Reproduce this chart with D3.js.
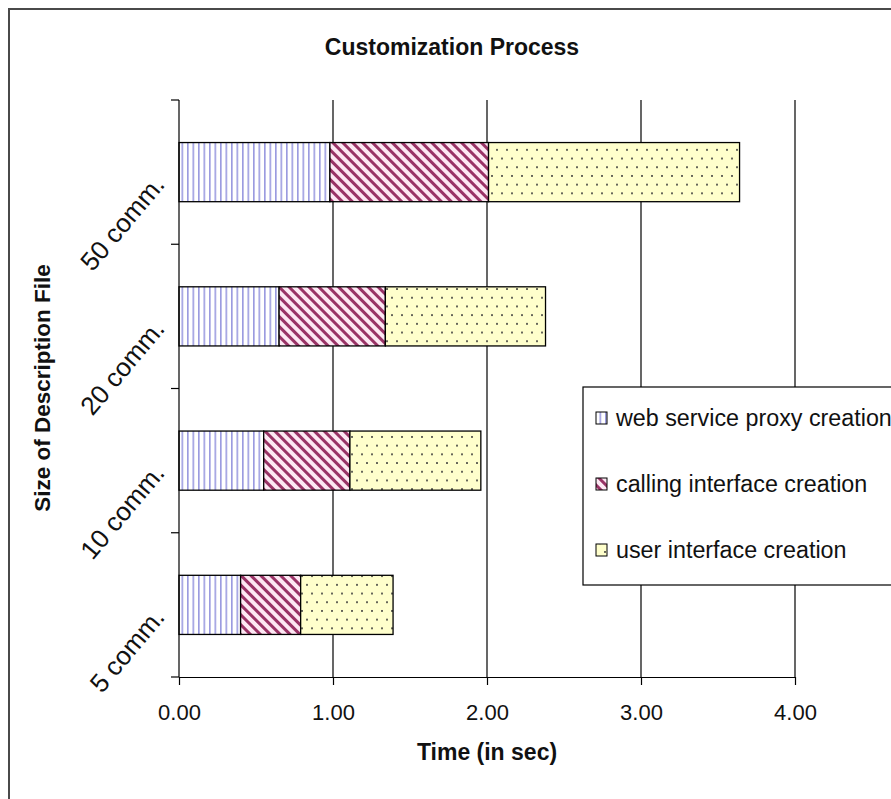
<!DOCTYPE html>
<html>
<head>
<meta charset="utf-8">
<script src="https://cdn.jsdelivr.net/npm/d3@7"></script>
<style>
  html, body { margin: 0; padding: 0; background: #fff; }
  svg { display: block; font-family: "Liberation Sans", Arial, sans-serif; }
</style>
</head>
<body>
<svg id="chart" width="891" height="799"></svg>
<script>
// ---- data ----
const categories = ["50 comm.", "20 comm.", "10 comm.", "5 comm."];
const seriesNames = ["web service proxy creation", "calling interface creation", "user interface creation"];
const proxyCreation = [0.98, 0.65, 0.55, 0.40];
const callingInterface = [1.03, 0.69, 0.56, 0.39];
const userInterface = [1.63, 1.04, 0.85, 0.60];
const xTicks = [0, 1, 2, 3, 4];
const titleText = "Customization Process";
const xTitle = "Time (in sec)";
const yTitle = "Size of Description File";

const svg = d3.select("#chart");
const W = 891, H = 799;
const plot = { left: 179, right: 795, top: 100, bottom: 677 };

// ---- patterns ----
const defs = svg.append("defs");
const p1 = defs.append("pattern").attr("id", "pat0").attr("patternUnits", "userSpaceOnUse")
  .attr("width", 5.5).attr("height", 10);
p1.append("rect").attr("width", 5.5).attr("height", 10).attr("fill", "#ffffff");
p1.append("rect").attr("x", 0).attr("width", 1.6).attr("height", 10).attr("fill", "#9a9ae0");

const p2 = defs.append("pattern").attr("id", "pat1").attr("patternUnits", "userSpaceOnUse")
  .attr("width", 7).attr("height", 10).attr("patternTransform", "rotate(-45)");
p2.append("rect").attr("width", 7).attr("height", 10).attr("fill", "#fde8f3");
p2.append("rect").attr("x", 0).attr("width", 3).attr("height", 10).attr("fill", "#993366");

const p3 = defs.append("pattern").attr("id", "pat2").attr("patternUnits", "userSpaceOnUse")
  .attr("width", 10).attr("height", 17.4);
p3.append("rect").attr("width", 10).attr("height", 17.4).attr("fill", "#ffffcc");
p3.append("circle").attr("cx", 2).attr("cy", 2).attr("r", 1).attr("fill", "#333");
p3.append("circle").attr("cx", 7).attr("cy", 10.7).attr("r", 1).attr("fill", "#333");

// ---- frame ----
svg.append("path")
  .attr("d", `M9,${H} L9,9 L${W},9`)
  .attr("fill", "none").attr("stroke", "#4a4a4a").attr("stroke-width", 2);

// ---- scales ----
const x = d3.scaleLinear().domain([0, 4]).range([plot.left, plot.right]);
const y = d3.scaleBand().domain(categories).range([plot.top, plot.bottom]).paddingInner(0.59).paddingOuter(0.295);
const yOuter = d3.scaleBand().domain(categories).range([plot.top, plot.bottom]);

// ---- gridlines ----
svg.append("g").selectAll("line").data(xTicks.filter(d => d > 0)).join("line")
  .attr("x1", d => x(d)).attr("x2", d => x(d))
  .attr("y1", plot.top).attr("y2", plot.bottom)
  .attr("stroke", "#000").attr("stroke-width", 1.2);

// ---- stacked bars ----
const table = categories.map((c, i) => ({
  cat: c, s0: proxyCreation[i], s1: callingInterface[i], s2: userInterface[i]
}));
const stack = d3.stack().keys(["s0", "s1", "s2"]);
const stacked = stack(table);
const gBars = svg.append("g");
stacked.forEach((layer, k) => {
  gBars.append("g").selectAll("rect").data(layer).join("rect")
    .attr("x", d => x(d[0]))
    .attr("y", d => y(d.data.cat))
    .attr("width", d => x(d[1]) - x(d[0]))
    .attr("height", y.bandwidth())
    .attr("fill", `url(#pat${k})`)
    .attr("stroke", "#000").attr("stroke-width", 1.3);
});

// ---- x axis ----
const xAxis = d3.axisBottom(x).tickValues(xTicks).tickFormat(d3.format(".2f")).tickSizeInner(8).tickSizeOuter(0);
const gx = svg.append("g").attr("transform", `translate(0,${plot.bottom})`).call(xAxis);
gx.select(".domain").attr("stroke", "#000").attr("stroke-width", 1.2);
gx.selectAll(".tick line").attr("stroke", "#000").attr("stroke-width", 1.2);
gx.selectAll(".tick text").attr("font-size", 22).attr("fill", "#111")
  .attr("font-family", "Liberation Sans, Arial, sans-serif").attr("dy", "0").attr("y", 43);

// ---- y axis ----
const gy = svg.append("g").attr("transform", `translate(${plot.left},0)`);
gy.append("line").attr("x1", 0).attr("x2", 0).attr("y1", plot.top).attr("y2", plot.bottom)
  .attr("stroke", "#000").attr("stroke-width", 1.2);
const boundaries = categories.map(c => yOuter(c)).concat([plot.bottom]);
gy.selectAll("line.tk").data(boundaries).join("line").attr("class", "tk")
  .attr("x1", -8).attr("x2", 0).attr("y1", d => d).attr("y2", d => d)
  .attr("stroke", "#000").attr("stroke-width", 1.2);
gy.selectAll("text.cat").data(categories).join("text").attr("class", "cat")
  .attr("transform", d => `translate(-13,${y(d) + y.bandwidth() / 2 + 13}) rotate(-50)`)
  .attr("text-anchor", "end")
  .attr("font-size", 26).attr("fill", "#111")
  .text(d => d);

// ---- titles ----
svg.append("text").attr("x", 452).attr("y", 55).attr("text-anchor", "middle")
  .attr("font-size", 23).attr("font-weight", "bold").attr("fill", "#111")
  .text(titleText);
svg.append("text").attr("x", x(2)).attr("y", 760).attr("text-anchor", "middle")
  .attr("font-size", 23).attr("font-weight", "bold").attr("fill", "#111")
  .text(xTitle);
svg.append("text").attr("transform", `translate(50,388) rotate(-90)`).attr("text-anchor", "middle")
  .attr("font-size", 22.5).attr("font-weight", "bold").attr("fill", "#111")
  .text(yTitle);

// ---- legend ----
const lg = svg.append("g").attr("transform", "translate(583,387)");
lg.append("rect").attr("width", 340).attr("height", 198).attr("fill", "#fff")
  .attr("stroke", "#000").attr("stroke-width", 1.2);
const rows = lg.selectAll("g.row").data(seriesNames).join("g").attr("class", "row")
  .attr("transform", (d, i) => `translate(0,${31 + i * 66})`);
rows.append("rect").attr("x", 13).attr("y", -6).attr("width", 11).attr("height", 12)
  .attr("fill", (d, i) => `url(#pat${i})`).attr("stroke", "#000").attr("stroke-width", 1);
rows.append("text").attr("x", 33).attr("y", 8).attr("font-size", 23.3).attr("fill", "#111")
  .text(d => d);
</script>
</body>
</html>
